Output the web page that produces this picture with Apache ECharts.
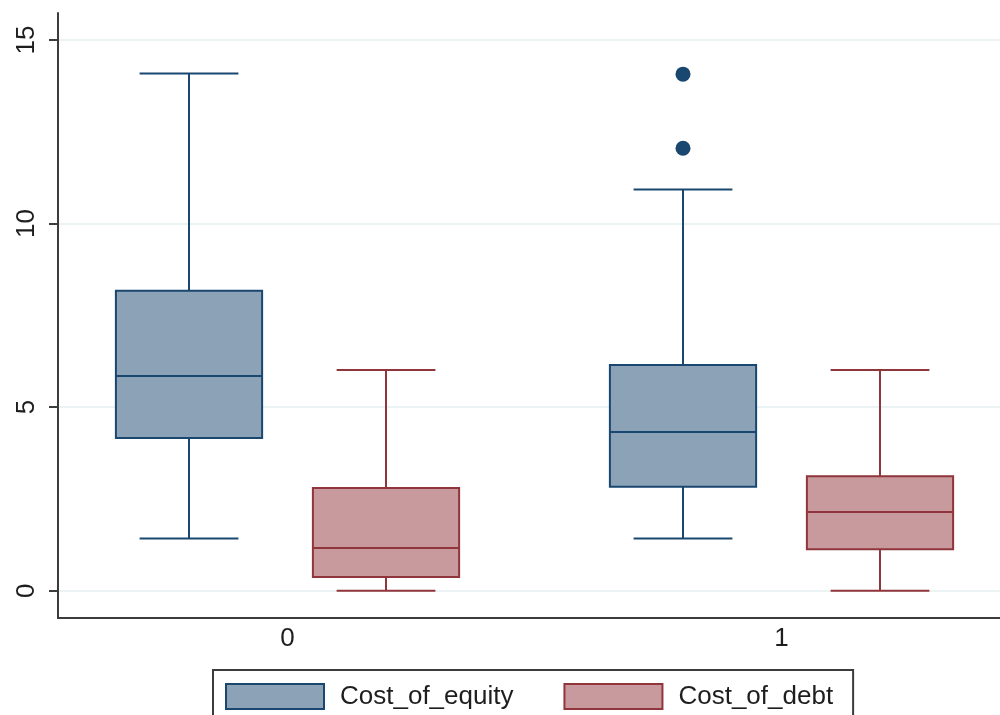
<!DOCTYPE html>
<html>
<head>
<meta charset="utf-8">
<script src="https://cdn.jsdelivr.net/npm/echarts@6/dist/echarts.min.js"></script>
<style>
  html, body { margin: 0; padding: 0; background: #ffffff; }
  #chart { width: 1000px; height: 715px; }
</style>
</head>
<body>
<div id="chart"></div>
<script>
// ---- data ----
const groups = ['0', '1'];
const seriesNames = ['Cost_of_equity', 'Cost_of_debt'];
// [min(lower whisker), Q1, median, Q3, max(upper whisker)] per group
const equityStats = [
  [1.42, 4.16, 5.85, 8.17, 14.09],
  [1.42, 2.83, 4.32, 6.15, 10.93]
];
const debtStats = [
  [0.0, 0.37, 1.16, 2.80, 6.01],
  [0.0, 1.13, 2.14, 3.12, 6.01]
];
// outliers: [group index, value]
const equityOutliers = [[1, 14.07], [1, 12.05]];
const yTicks = [0, 5, 10, 15];

// ---- styling / layout ----
const NAVY = '#1a476f', NAVY_FILL = '#8ca3b7';
const MAROON = '#90353b', MAROON_FILL = '#c89a9d';
const OFFSET = 0.1994;     // box offset from group centre (x units)
const BOX_W = 0.296;       // box width (x units)
const CAP_W = 0.2;         // whisker cap width (x units)
const FONT = "'Liberation Sans', Arial, sans-serif";

function toRows(stats, off) {
  return stats.map((s, i) => [i + off].concat(s));
}

function makeRender(stroke, fill) {
  return function (params, api) {
    const x = api.value(0);
    const pMin = api.coord([x, api.value(1)]);
    const pQ1 = api.coord([x, api.value(2)]);
    const pMed = api.coord([x, api.value(3)]);
    const pQ3 = api.coord([x, api.value(4)]);
    const pMax = api.coord([x, api.value(5)]);
    const hb = api.size([BOX_W, 0])[0] / 2;
    const hc = api.size([CAP_W, 0])[0] / 2;
    const cx = pMed[0];
    const ls = { stroke: stroke, lineWidth: 2 };
    return {
      type: 'group',
      children: [
        { type: 'line', shape: { x1: cx, y1: pMax[1], x2: cx, y2: pQ3[1] }, style: ls },
        { type: 'line', shape: { x1: cx, y1: pQ1[1], x2: cx, y2: pMin[1] }, style: ls },
        { type: 'line', shape: { x1: cx - hc, y1: pMax[1], x2: cx + hc, y2: pMax[1] }, style: ls },
        { type: 'line', shape: { x1: cx - hc, y1: pMin[1], x2: cx + hc, y2: pMin[1] }, style: ls },
        { type: 'rect', shape: { x: cx - hb, y: pQ3[1], width: 2 * hb, height: pQ1[1] - pQ3[1] },
          style: { fill: fill, stroke: stroke, lineWidth: 2 } },
        { type: 'line', shape: { x1: cx - hb, y1: pMed[1], x2: cx + hb, y2: pMed[1] }, style: ls }
      ]
    };
  };
}

const chart = echarts.init(document.getElementById('chart'), null, { renderer: 'canvas' });
chart.setOption({
  backgroundColor: '#ffffff',
  animation: false,
  grid: { left: 58, right: 0, top: 13, bottom: 97, containLabel: false },
  xAxis: {
    type: 'value',
    min: -0.4646,
    max: 1.4423,
    axisLine: { show: true, onZero: false, lineStyle: { color: '#3c3c3c', width: 2 } },
    axisTick: { show: false },
    splitLine: { show: false },
    axisLabel: {
      customValues: groups.map((g, i) => i),
      formatter: v => groups[Math.round(v)],
      margin: 8,
      color: '#1e1e1e',
      fontSize: 26,
      fontFamily: FONT
    }
  },
  yAxis: {
    type: 'value',
    min: -0.744,
    max: 15.735,
    axisLine: { show: true, onZero: false, lineStyle: { color: '#3c3c3c', width: 2 } },
    axisTick: { show: true, customValues: yTicks, length: 9, lineStyle: { color: '#3c3c3c', width: 2 } },
    splitLine: { show: true, lineStyle: { color: '#e6eff1', width: 1.5 } },
    axisLabel: {
      customValues: yTicks,
      rotate: 90,
      margin: 18,
      color: '#1e1e1e',
      fontSize: 26,
      fontFamily: FONT
    }
  },
  legend: {
    left: 213,
    top: 670,
    orient: 'horizontal',
    padding: [13, 20, 13, 12],
    itemWidth: 98,
    itemHeight: 25,
    itemGap: 50,
    borderColor: '#3c3c3c',
    borderWidth: 2,
    textStyle: { fontSize: 26, fontFamily: FONT, color: '#1e1e1e', padding: [0, 0, 0, 11] },
    data: [
      { name: seriesNames[0], icon: 'rect', itemStyle: { color: NAVY_FILL, borderColor: NAVY, borderWidth: 2 } },
      { name: seriesNames[1], icon: 'rect', itemStyle: { color: MAROON_FILL, borderColor: MAROON, borderWidth: 2 } }
    ]
  },
  series: [
    {
      name: seriesNames[0],
      type: 'custom',
      z: 3,
      itemStyle: { color: NAVY_FILL, borderColor: NAVY },
      encode: { x: 0, y: [1, 2, 3, 4, 5] },
      renderItem: makeRender(NAVY, NAVY_FILL),
      data: toRows(equityStats, -OFFSET)
    },
    {
      name: seriesNames[1],
      type: 'custom',
      z: 3,
      itemStyle: { color: MAROON_FILL, borderColor: MAROON },
      encode: { x: 0, y: [1, 2, 3, 4, 5] },
      renderItem: makeRender(MAROON, MAROON_FILL),
      data: toRows(debtStats, OFFSET)
    },
    {
      name: 'outliers',
      type: 'scatter',
      z: 4,
      symbol: 'circle',
      symbolSize: 15,
      itemStyle: { color: NAVY, opacity: 1 },
      data: equityOutliers.map(o => [o[0] - OFFSET, o[1]])
    }
  ]
});
</script>
</body>
</html>
